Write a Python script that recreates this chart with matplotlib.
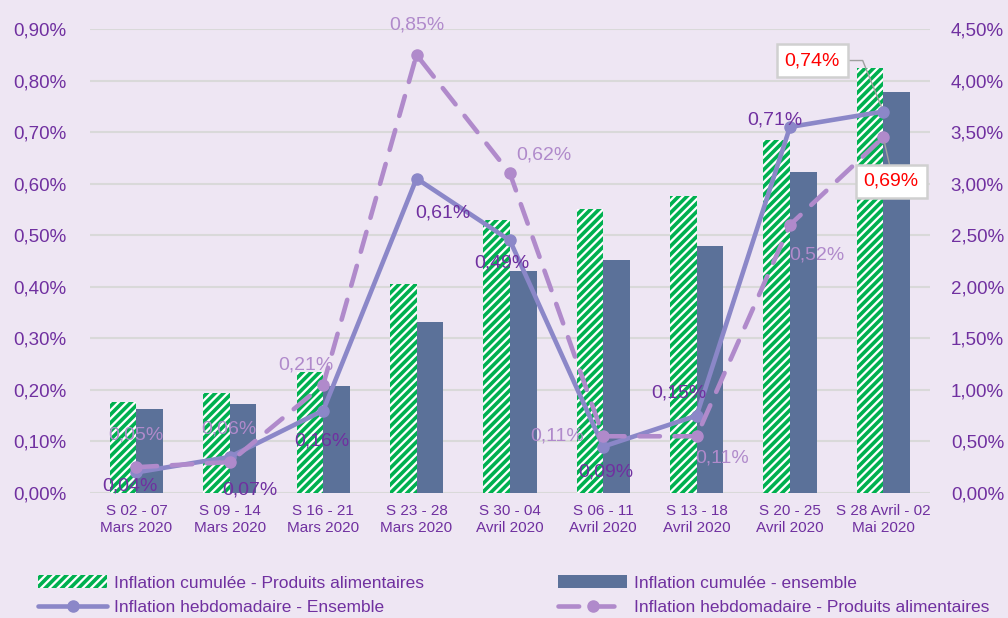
import numpy as np
import matplotlib.pyplot as plt
from matplotlib.ticker import FuncFormatter

plt.rcParams['font.family'] = ['Liberation Sans', 'DejaVu Sans']
plt.rcParams['hatch.linewidth'] = 2.6

# semaines
categories = ["S 02 - 07\nMars 2020", "S 09 - 14\nMars 2020", "S 16 - 21\nMars 2020",
              "S 23 - 28\nMars 2020", "S 30 - 04\nAvril 2020", "S 06 - 11\nAvril 2020",
              "S 13 - 18\nAvril 2020", "S 20 - 25\nAvril 2020", "S 28 Avril - 02\nMai 2020"]

# inflation cumulee (axe de droite, %)
cum_alim = [0.885, 0.967, 1.17, 2.03, 2.65, 2.75, 2.88, 3.42, 4.12]
cum_ens = [0.81, 0.86, 1.04, 1.66, 2.15, 2.26, 2.40, 3.11, 3.89]

# inflation hebdomadaire (axe de gauche, %)
hebdo_ens = [0.04, 0.07, 0.16, 0.61, 0.49, 0.09, 0.15, 0.71, 0.74]
hebdo_alim = [0.05, 0.06, 0.21, 0.85, 0.62, 0.11, 0.11, 0.52, 0.69]

# decalage des etiquettes (pixels)
off_ens = [(-7, -14), (20, -33), (-1, -30), (26, -34), (-8, -23), (3, -25), (-18, 23), (-15, 7), (-71, 51)]
off_alim = [(-1, 32), (-1, 33), (-17, 20), (0, 30), (34, 18), (-46, 0), (26, -22), (27, -30), (8, -44)]

bg = '#EEE6F3'
purple = '#7030A0'
c_ens = '#8B87C8'
c_alim = '#B08ACB'
c_bar = '#5B7199'
c_green = '#00B050'

fig = plt.figure(figsize=(10.08, 6.18), dpi=100)
fig.patch.set_facecolor(bg)
ax = fig.add_axes([0.0891, 0.2023, 0.8335, 0.7507])
ax2 = ax.twinx()
ax2.set_facecolor(bg)
ax.set_zorder(ax2.get_zorder() + 1)
ax.patch.set_visible(False)

x = np.arange(len(categories))
w = 0.285
b1 = ax2.bar(x - w / 2, cum_alim, w, facecolor='white', edgecolor=c_green, hatch='////', linewidth=0,
             label='Inflation cumulée - Produits alimentaires', zorder=2)
b2 = ax2.bar(x + w / 2, cum_ens, w, color=c_bar, label='Inflation cumulée - ensemble', zorder=2)

l1, = ax.plot(x, hebdo_ens, color=c_ens, lw=3.3, marker='o', ms=8, solid_capstyle='round',
              label='Inflation hebdomadaire - Ensemble', zorder=3)
l2, = ax.plot(x, hebdo_alim, color=c_alim, lw=3.3, marker='o', ms=8, linestyle=(0, (4.5, 3.2)),
              dash_capstyle='round', label='Inflation hebdomadaire - Produits alimentaires', zorder=3)

ax.set_xlim(-0.5, len(categories) - 0.5)
ax.set_ylim(0, 0.9)
ax2.set_ylim(0, 4.5)
ax.set_yticks(np.arange(0, 0.91, 0.1))
ax2.set_yticks(np.arange(0, 4.51, 0.5))
pct = FuncFormatter(lambda v, p: f"{v:.2f}%".replace('.', ','))
ax.yaxis.set_major_formatter(pct)
ax2.yaxis.set_major_formatter(pct)
ax2.yaxis.grid(True, color='#D9D9D9', lw=1.5)
ax2.set_axisbelow(True)

for a in (ax, ax2):
    for s in a.spines.values():
        s.set_visible(False)
    a.tick_params(length=0, labelsize=13.5, labelcolor=purple)
ax.tick_params(axis='y', pad=17)
ax2.tick_params(axis='y', pad=15)
ax.set_xticks(x)
ax.set_xticklabels(categories, fontsize=11, color=purple, linespacing=1.25)
ax.tick_params(axis='x', pad=8)

def fmt(v):
    return f"{v:.2f}%".replace('.', ',')

last = len(x) - 1
for i in x:
    if i == last:
        continue
    ax.annotate(fmt(hebdo_ens[i]), (x[i], hebdo_ens[i]), xytext=off_ens[i], textcoords='offset pixels',
                ha='center', va='center', fontsize=14, color=purple, zorder=5)
    ax.annotate(fmt(hebdo_alim[i]), (x[i], hebdo_alim[i]), xytext=off_alim[i], textcoords='offset pixels',
                ha='center', va='center', fontsize=14, color=c_alim, zorder=5)

box = dict(boxstyle='square,pad=0.4', fc='white', ec='#D0D0D0', lw=1.8)
ax.annotate(fmt(hebdo_ens[last]), (x[last], hebdo_ens[last]), xytext=off_ens[last], textcoords='offset pixels',
            ha='center', va='center', fontsize=14, color='#FF0000', bbox=box, zorder=6,
            arrowprops=dict(arrowstyle='-', color='#A0A0A0', lw=1,
                            connectionstyle='angle,angleA=0,angleB=112,rad=0',
                            shrinkA=0, shrinkB=4, relpos=(1, 0.5)))
ax.annotate(fmt(hebdo_alim[last]), (x[last], hebdo_alim[last]), xytext=off_alim[last], textcoords='offset pixels',
            ha='center', va='center', fontsize=14, color='#FF0000', bbox=box, zorder=6,
            arrowprops=dict(arrowstyle='-', color='#A0A0A0', lw=1, shrinkA=0, shrinkB=4, relpos=(0.5, 1)))

leg = fig.legend([b1, l1, b2, l2], [b1.get_label(), l1.get_label(), b2.get_label(), l2.get_label()],
                 ncol=2, loc='lower left', bbox_to_anchor=(0.022, -0.021), frameon=False,
                 prop={'size': 12.5},
                 handlelength=4.0, handletextpad=0.4, columnspacing=7.7, labelspacing=0.55)
for t in leg.get_texts():
    t.set_color(purple)

plt.savefig('out.png', dpi=100, facecolor=bg)
